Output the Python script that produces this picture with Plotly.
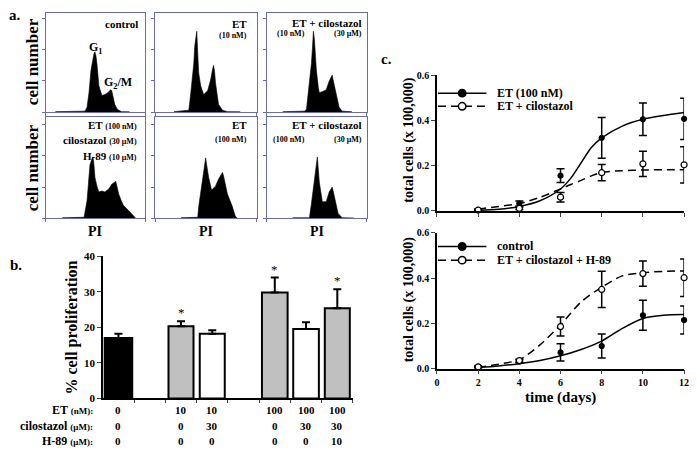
import plotly.graph_objects as go

W, H = 697, 456
FONT = "'Liberation Serif', 'Times New Roman', Times, serif"
HC = "#6a6aae"

# ---------------- panel a: DNA content histograms (PI channel vs cell number) ----------------
h1_pi = [10, 25, 38, 40, 42, 44, 46, 48, 49, 50, 51, 52, 54, 57, 60, 63, 64, 66, 67, 68, 70, 72, 74, 77, 85]
h1_n = [0.5, 1, 0.8, 1, 5, 20, 43, 55, 60, 62, 58, 50, 27, 17, 18, 20, 21, 23, 22, 18, 8, 4, 2, 0.5, 0.3]
h2_pi = [19, 29, 34, 36, 38, 39, 40, 41, 42, 43, 44, 46, 49, 53, 56, 58, 59, 60, 61, 64, 68, 73, 86]
h2_n = [0.5, 1, 2, 20, 40, 50, 68, 80, 83, 60, 40, 27, 18, 22, 33, 44, 48, 42, 30, 8, 2, 0.5, 0.3]
h3_pi = [16, 38, 40, 43, 45, 46, 47, 48, 49, 50, 52, 53, 56, 60, 63, 65, 66, 67, 70, 73, 76, 86]
h3_n = [0.5, 1, 3, 30, 50, 65, 83, 75, 55, 43, 25, 20, 21, 23, 32, 37, 38, 33, 20, 5, 1, 0.3]
h4_pi = [17, 39, 42, 44, 45, 47, 48, 49, 50, 52, 54, 57, 60, 64, 67, 70, 71, 72, 74, 77, 79, 84, 88, 91]
h4_n = [0.5, 1, 18, 45, 55, 61, 63, 55, 42, 33, 27, 28, 27, 30, 35, 37, 38, 34, 25, 17, 13, 8, 3, 0.3]
h5_pi = [26, 43, 44, 46, 48, 50, 51, 52, 54, 57, 61, 64, 67, 68, 69, 70, 73, 78, 81, 83]
h5_n = [0.5, 1, 12, 25, 38, 55, 62, 55, 42, 29, 33, 40, 46, 47, 44, 40, 25, 12, 2, 0.3]
h6_pi = [26, 43, 45, 47, 48, 50, 51, 52, 53, 56, 60, 63, 65, 66, 67, 69, 72, 76, 88]
h6_n = [0.5, 0.5, 15, 30, 42, 58, 63, 50, 37, 17, 17, 27, 31, 32, 28, 18, 5, 0.5, 0.3]

# ---------------- panel b: % cell proliferation ----------------
bar_slot = [0, 2, 3, 5, 6, 7]
bar_pct = [17.0, 20.3, 18.2, 29.8, 19.5, 25.4]
bar_err = [1.2, 1.4, 1.0, 4.2, 1.9, 5.3]
bar_colors = ["#000000", "#c0c0c0", "#ffffff", "#c0c0c0", "#ffffff", "#c0c0c0"]
bar_sig = [False, True, False, True, False, True]
et_nM = ["0", "10", "10", "100", "100", "100"]
cilo_uM = ["0", "0", "30", "0", "30", "30"]
h89_uM = ["0", "0", "0", "0", "0", "10"]

# ---------------- panel c: total cells (x 100,000) vs time ----------------
days = [2, 4, 6, 8, 10, 12]
et100_mean = [0.005, 0.033, 0.156, 0.323, 0.405, 0.407]
et100_sem = [0.004, 0.011, 0.030, 0.090, 0.072, 0.091]
etcilo_mean = [0.004, 0.011, 0.061, 0.169, 0.208, 0.204]
etcilo_sem = [0.003, 0.005, 0.021, 0.036, 0.056, 0.080]
fit_days_top = [2, 3, 4, 5, 6, 6.5, 7, 7.5, 8, 9, 10, 11, 12]
et100_fit = [0.003, 0.008, 0.02, 0.045, 0.097, 0.145, 0.213, 0.28, 0.323, 0.375, 0.405, 0.422, 0.435]
etcilo_fit = [0.008, 0.02, 0.033, 0.06, 0.097, 0.117, 0.135, 0.155, 0.170, 0.178, 0.181, 0.182, 0.182]

ctrl_mean = [0.008, 0.032, 0.072, 0.100, 0.236, 0.215]
ctrl_sem = [0.004, 0.006, 0.038, 0.053, 0.066, 0.062]
h89_mean = [0.008, 0.036, 0.186, 0.350, 0.420, 0.402]
h89_sem = [0.004, 0.006, 0.042, 0.080, 0.056, 0.083]
fit_days_bot = [2, 3, 4, 5, 6, 7, 8, 9, 10, 11, 12]
ctrl_fit = [0.005, 0.012, 0.022, 0.036, 0.057, 0.085, 0.122, 0.178, 0.222, 0.236, 0.239]
h89_fit = [0.005, 0.02, 0.04, 0.105, 0.194, 0.295, 0.36, 0.41, 0.424, 0.43, 0.432]


def px(x):
    return x / W


def py(y):
    return 1 - y / H


def ann(x, y, text, size=11, xa="center", ya="middle", angle=0, bold=True):
    return dict(x=px(x), y=py(y), xref="paper", yref="paper", text=text, showarrow=False,
                xanchor=xa, yanchor=ya, textangle=angle,
                font=dict(family=FONT, size=size, color="black", weight="bold" if bold else "normal"))


fig = go.Figure()
layout = dict(width=W, height=H, margin=dict(l=0, r=0, t=0, b=0), paper_bgcolor="white",
              plot_bgcolor="white", showlegend=False, font=dict(family=FONT, color="black"))

# histogram boxes (left, right) and rows (top, bottom) in pixels
cols = [(43, 144), (154, 256.5), (267, 368)]
rows = [(7, 109), (114, 218)]
hists = [(h1_pi, h1_n), (h2_pi, h2_n), (h3_pi, h3_n), (h4_pi, h4_n), (h5_pi, h5_n), (h6_pi, h6_n)]
for i, (xs, ys) in enumerate(hists):
    r, c = divmod(i, 3)
    k = i + 1
    sfx = "" if k == 1 else str(k)
    fig.add_trace(go.Scatter(x=xs, y=ys, mode="lines", fill="tozeroy", fillcolor="black",
                             line=dict(color="black", width=0.6), xaxis="x" + sfx, yaxis="y" + sfx,
                             hoverinfo="skip"))
    l, rr = cols[c]
    t, b = rows[r]
    layout["xaxis" + sfx] = dict(domain=[px(l), px(rr)], range=[0, rr - l], showline=True, mirror=True,
                                 linecolor=HC, linewidth=1, ticks="outside", ticklen=3, tickcolor=HC,
                                 tickvals=[0, rr - l], showticklabels=False, showgrid=False,
                                 zeroline=False, anchor="y" + sfx)
    layout["yaxis" + sfx] = dict(domain=[py(b), py(t)], range=[0, b - t], showline=True, mirror=True,
                                 linecolor=HC, linewidth=1, ticks="outside", ticklen=3, tickcolor=HC,
                                 tickvals=[0, 32, 64, 96], showticklabels=False, showgrid=False,
                                 zeroline=False, anchor="x" + sfx)

# ---------------- bar chart ----------------
fig.add_trace(go.Bar(x=bar_slot, y=bar_pct, width=[0.88, 0.8, 0.8, 0.82, 0.82, 0.8],
                     marker=dict(color=bar_colors, line=dict(color="black", width=2)),
                     error_y=dict(type="data", array=bar_err, arrayminus=[0] * len(bar_err),
                                  symmetric=False, color="black", thickness=2, width=4),
                     xaxis="x7", yaxis="y7", hoverinfo="skip"))
layout["xaxis7"] = dict(domain=[px(101), px(354)], range=[-0.5, 7.5], showline=True, linecolor="black",
                        linewidth=1.5, ticks="outside", ticklen=3, tickvals=[0.5, 1.5, 2.5, 3.5, 4.5, 5.5, 6.5, 7.5],
                        showticklabels=False, showgrid=False, zeroline=False, anchor="y7")
layout["yaxis7"] = dict(domain=[py(403), py(257)], range=[0, 40], showline=True, linecolor="black",
                        linewidth=1.5, ticks="outside", ticklen=4, tickvals=[0, 10, 20, 30, 40],
                        tickfont=dict(family=FONT, size=11, weight="bold"), showgrid=False,
                        zeroline=False, anchor="x7")
layout["bargap"] = 0.2

annotations = []
for s, m, e, sig in zip(bar_slot, bar_pct, bar_err, bar_sig):
    if sig:
        annotations.append(dict(x=s, y=m + e, xref="x7", yref="y7", text="*", showarrow=False,
                                yanchor="bottom", yshift=-1,
                                font=dict(family=FONT, size=13, color="black")))
for s, a, b_, c_ in zip(bar_slot, et_nM, cilo_uM, h89_uM):
    for val, yy in ((a, 415), (b_, 431.5), (c_, 447)):
        annotations.append(dict(x=s, y=py(yy), xref="x7", yref="paper", text=val, showarrow=False,
                                xanchor="center", yanchor="middle",
                                font=dict(family=FONT, size=11, color="black", weight="bold")))
small = "<span style='font-size:9px'>%s</span>"
annotations += [
    ann(93, 415, "ET " + small % "(nM):", 12, xa="right"),
    ann(93, 431.5, "cilostazol " + small % "(μM):", 12, xa="right"),
    ann(93, 447, "H-89 " + small % "(μM):", 12, xa="right"),
    ann(70, 330, "% cell proliferation", 16, angle=-90),
    ann(13, 266, "b.", 15),
    ann(12, 9, "a.", 15),
    ann(388, 54, "c.", 15),
]

# histogram labels
annotations += [
    ann(139, 19, "control", 11, xa="right"),
    ann(94, 43, "G<sub>1</sub>", 12),
    ann(116, 79, "G<sub>2</sub>/M", 12),
    ann(249, 18, "ET", 11, xa="right"),
    ann(249, 30, "(10 nM)", 8, xa="right"),
    ann(365, 17, "ET + cilostazol", 11, xa="right"),
    ann(275, 28, "(10 nM)", 8, xa="left"),
    ann(365, 28, "(30 μM)", 8, xa="right"),
    ann(138, 122, "ET " + "<span style='font-size:8px'>(100 nM)</span>", 11, xa="right"),
    ann(138, 138, "cilostazol " + "<span style='font-size:8px'>(30 μM)</span>", 11, xa="right"),
    ann(138, 154, "H-89 " + "<span style='font-size:8px'>(10 μM)</span>", 11, xa="right"),
    ann(249, 122, "ET", 11, xa="right"),
    ann(249, 137, "(100 nM)", 8, xa="right"),
    ann(365, 122, "ET + cilostazol", 11, xa="right"),
    ann(271, 137, "(100 nM)", 8, xa="left"),
    ann(365, 137, "(30 μM)", 8, xa="right"),
    ann(30, 57, "cell number", 17, angle=-90),
    ann(30, 166, "cell number", 17, angle=-90),
]
for (l, rr) in cols:
    annotations.append(ann((l + rr) / 2, 232, "PI", 14))

# ---------------- panel c ----------------
def add_growth(xa, ya, fit_x, fit_y, mean, sem, dash, filled):
    fig.add_trace(go.Scatter(x=fit_x, y=fit_y, mode="lines", line=dict(color="black", width=1.5, dash=dash,
                             shape="spline", smoothing=0.8), xaxis=xa, yaxis=ya, cliponaxis=False,
                             hoverinfo="skip"))
    fig.add_trace(go.Scatter(x=days, y=mean, mode="markers",
                             marker=dict(size=5 if filled else 6, color="black" if filled else "white",
                                         line=dict(color="black", width=1.2)),
                             error_y=dict(type="data", array=sem, color="black", thickness=1.5, width=4),
                             xaxis=xa, yaxis=ya, cliponaxis=False, hoverinfo="skip"))


add_growth("x8", "y8", fit_days_top, et100_fit, et100_mean, et100_sem, "solid", True)
add_growth("x8", "y8", fit_days_top, etcilo_fit, etcilo_mean, etcilo_sem, "8px,5px", False)
add_growth("x9", "y9", fit_days_bot, ctrl_fit, ctrl_mean, ctrl_sem, "solid", True)
add_growth("x9", "y9", fit_days_bot, h89_fit, h89_mean, h89_sem, "8px,5px", False)

for xa, ya, t, b, lab in (("xaxis8", "yaxis8", 71, 210.5, False), ("xaxis9", "yaxis9", 233, 372.5, True)):
    xs = xa.replace("axis", "")
    ys = ya.replace("axis", "")
    layout[xa] = dict(domain=[px(439), px(689)], range=[0, 12], showline=True, linecolor="black",
                      linewidth=1.5, ticks="outside", ticklen=4, tickvals=[0, 2, 4, 6, 8, 10, 12],
                      showticklabels=lab, tickfont=dict(family=FONT, size=10, weight="bold"),
                      showgrid=False, zeroline=False, anchor=ys)
    layout[ya] = dict(domain=[py(b), py(t)], range=[0, 0.6], showline=True, linecolor="black",
                      linewidth=1.5, ticks="outside", ticklen=4, tickvals=[0, 0.2, 0.4, 0.6],
                      tickformat=".1f", tickfont=dict(family=FONT, size=10, weight="bold"),
                      showgrid=False, zeroline=False, anchor=xs)

annotations += [
    ann(411, 137, "total cells (x 100,000)", 14, angle=-90),
    ann(411, 301, "total cells (x 100,000)", 14, angle=-90),
    ann(564, 402, "time (days)", 15),
    ann(498, 89.5, "ET (100 nM)", 12, xa="left"),
    ann(498, 103, "ET + cilostazol", 12, xa="left"),
    ann(498, 247, "control", 12, xa="left"),
    ann(498, 261, "ET + cilostazol + H-89", 12, xa="left"),
]

shapes = []
for yy, dash, filled in ((89.5, "solid", True), (103, "8px,5px", False), (247, "solid", True), (261, "8px,5px", False)):
    shapes.append(dict(type="line", xref="paper", yref="paper", x0=px(440), x1=px(489), y0=py(yy), y1=py(yy),
                       line=dict(color="black", width=1.5, dash=dash)))
    r = 3.8
    shapes.append(dict(type="circle", xref="paper", yref="paper", x0=px(464.5 - r), x1=px(464.5 + r),
                       y0=py(yy + r), y1=py(yy - r), fillcolor="black" if filled else "white",
                       line=dict(color="black", width=1.5)))

layout["annotations"] = annotations
layout["shapes"] = shapes
fig.update_layout(**layout)
fig.write_html("out.html", config={"displayModeBar": False},
               post_script="document.body.style.margin='0';document.body.style.overflow='hidden';")
